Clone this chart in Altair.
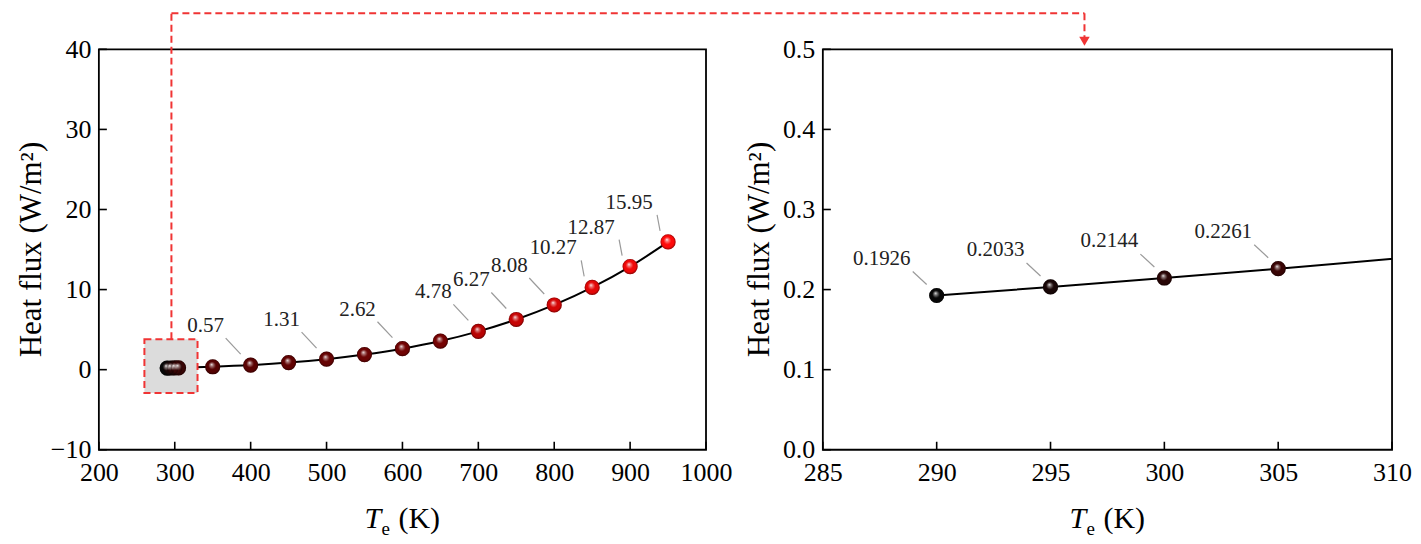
import altair as alt
import pandas as pd

# ---------------- data ----------------
TE = [290, 295, 300, 305, 350, 400, 450, 500, 550, 600, 650, 700, 750, 800, 850, 900, 950]
FLUX = [0.1926, 0.2033, 0.2144, 0.2261, 0.36, 0.57, 0.88, 1.31, 1.88, 2.62, 3.57,
        4.78, 6.27, 8.08, 10.27, 12.87, 15.95]

LEFT_LABEL_TE = [400, 500, 600, 700, 750, 800, 850, 900, 950]
LEFT_LABEL_TEXT = ["0.57", "1.31", "2.62", "4.78", "6.27", "8.08", "10.27", "12.87", "15.95"]
RIGHT_LABEL_TE = [290, 295, 300, 305]
RIGHT_LABEL_TEXT = ["0.1926", "0.2033", "0.2144", "0.2261"]

LEFT_X_TICKS = [200, 300, 400, 500, 600, 700, 800, 900, 1000]
LEFT_Y_TICKS = [-10, 0, 10, 20, 30, 40]
RIGHT_X_TICKS = [285, 290, 295, 300, 305, 310]
RIGHT_Y_TICKS = [0.0, 0.1, 0.2, 0.3, 0.4, 0.5]

ZOOM_X = [260, 330]      # inset region (data units) highlighted in the left panel
ZOOM_Y = [-2.9, 3.8]
ZOOM_LINK_X = [295.6]

COLOR_DOMAIN = [290, 305, 350, 650, 700, 950]
COLOR_RANGE = ["#070707", "#3a0505", "#560202", "#760303", "#b80202", "#ff0a0a"]

# ---------------- styling ----------------
FONT = "Liberation Serif"
W1, W2, H = 608, 570, 401
RED = "#f03434"
DASH = [7, 4]

df = pd.DataFrame({"Te": TE, "flux": FLUX})
lookup = dict(zip(TE, FLUX))
left_lab = pd.DataFrame({"Te": LEFT_LABEL_TE, "flux": [lookup[t] for t in LEFT_LABEL_TE],
                         "txt": LEFT_LABEL_TEXT})
right_lab = pd.DataFrame({"Te": RIGHT_LABEL_TE, "flux": [lookup[t] for t in RIGHT_LABEL_TE],
                          "txt": RIGHT_LABEL_TEXT})
right_pts = df[df["Te"] <= 305]
one = pd.DataFrame({"k": [0]})

color_scale = alt.Scale(domain=COLOR_DOMAIN, range=COLOR_RANGE, interpolate="rgb")

gloss = alt.RadialGradient(
    gradient="radial",
    stops=[
        alt.GradientStop(offset=0, color="rgba(255,255,255,0.95)"),
        alt.GradientStop(offset=0.2, color="rgba(255,255,255,0.45)"),
        alt.GradientStop(offset=0.5, color="rgba(255,255,255,0)"),
        alt.GradientStop(offset=0.8, color="rgba(0,0,0,0)"),
        alt.GradientStop(offset=1, color="rgba(0,0,0,0.45)"),
    ],
    x1=0.42, y1=0.34, r1=0, x2=0.5, y2=0.5, r2=0.5,
)


def axis(values, fmt, pad):
    return alt.Axis(values=values, format=fmt, title=None, domain=False, ticks=False,
                    tickSize=0, grid=False, labelFont=FONT, labelFontSize=26,
                    labelColor="black", labelPadding=pad, labelFlush=False,
                    labelOverlap=False)


def panel(W, xdom, ydom, xticks, yticks, yfmt, pts, labs, lab_groups, ytitle_x, clip):
    xs = alt.Scale(domain=xdom, nice=False, zero=False)
    ys = alt.Scale(domain=ydom, nice=False, zero=False)
    xax = axis(xticks, "d", 10)
    yax = axis(yticks, yfmt, 8)
    X = lambda f: alt.X(f, type="quantitative", scale=xs, axis=xax)
    Y = lambda f: alt.Y(f, type="quantitative", scale=ys, axis=yax)

    line = alt.Chart(df).mark_line(color="black", strokeWidth=2, interpolate="monotone",
                                   clip=clip).encode(
        x=X("Te"), y=Y("flux"), order="Te:Q")
    # inward ticks
    xt = alt.Chart(pd.DataFrame({"Te": xticks})).mark_rule(color="black", strokeWidth=1.6).encode(
        x=X("Te"), y=alt.value(H), y2=alt.value(H - 8))
    yt = alt.Chart(pd.DataFrame({"flux": yticks})).mark_rule(color="black", strokeWidth=1.6).encode(
        y=Y("flux"), x=alt.value(0), x2=alt.value(8))

    leaders = []
    texts = []
    for cond, (ldx, ldy, t1x, t1y, t2x, t2y) in lab_groups:
        sub = labs[cond(labs)]
        leaders.append(alt.Chart(sub).mark_rule(
            color="#9a9a9a", strokeWidth=1.2,
            xOffset=t1x, yOffset=t1y, x2Offset=t2x, y2Offset=t2y).encode(
            x=X("Te"), y=Y("flux"), x2="Te:Q", y2="flux:Q"))
        texts.append(alt.Chart(sub).mark_text(
            font=FONT, fontSize=21, color="#222222", dx=ldx, dy=ldy,
            align="center", baseline="middle").encode(
            x=X("Te"), y=Y("flux"), text="txt:N"))

    balls = alt.Chart(pts).mark_circle(size=230, opacity=1).encode(
        x=X("Te"), y=Y("flux"),
        color=alt.Color("Te:Q", scale=color_scale, legend=None))
    shine = alt.Chart(pts).mark_circle(size=230, opacity=1, fill=gloss).encode(
        x=X("Te"), y=Y("flux"))

    ytitle = alt.Chart(one).mark_text(font=FONT, fontSize=31, angle=270, align="center",
                                      baseline="alphabetic", color="black").encode(
        x=alt.value(ytitle_x), y=alt.value(H / 2), text=alt.value("Heat flux (W/m²)"))
    c = W / 2
    t_T = alt.Chart(one).mark_text(font=FONT, fontSize=30, fontStyle="italic", align="left",
                                   baseline="alphabetic", color="black").encode(
        x=alt.value(c - 38), y=alt.value(H + 78), text=alt.value("T"))
    t_e = alt.Chart(one).mark_text(font=FONT, fontSize=19, align="left",
                                   baseline="alphabetic", color="black").encode(
        x=alt.value(c - 21), y=alt.value(H + 85), text=alt.value("e"))
    t_K = alt.Chart(one).mark_text(font=FONT, fontSize=30, align="left",
                                   baseline="alphabetic", color="black").encode(
        x=alt.value(c - 4), y=alt.value(H + 78), text=alt.value("(K)"))

    layers = [line, xt, yt] + leaders + [balls, shine] + texts + [ytitle, t_T, t_e, t_K]
    return layers, X, Y


# ---------------- left panel ----------------
left_groups = [
    (lambda d: d["Te"] < 850, (-45, -39, -25, -27, -10, -11)),
    (lambda d: d["Te"] >= 850, (-39, -39, -11, -27, -8, -11)),
]
L_layers, LX, LY = panel(W1, [200, 1000], [-10, 40], LEFT_X_TICKS, LEFT_Y_TICKS, "d",
                         df, left_lab, left_groups, -58, False)

box = alt.Chart(pd.DataFrame({"Te": [ZOOM_X[0]], "x2": [ZOOM_X[1]],
                              "flux": [ZOOM_Y[0]], "y2": [ZOOM_Y[1]]})).mark_rect(
    fill="#dcdcdc", stroke=RED, strokeWidth=2, strokeDash=DASH).encode(
    x=LX("Te"), x2="x2:Q", y=LY("flux"), y2="y2:Q")

link = pd.DataFrame({"Te": ZOOM_LINK_X, "flux": [ZOOM_Y[1]]})
link_up = alt.Chart(link).mark_rule(color=RED, strokeWidth=2, strokeDash=DASH).encode(
    x=LX("Te"), y=LY("flux"), y2=alt.value(-36))
link_across = alt.Chart(link).mark_rule(color=RED, strokeWidth=2, strokeDash=DASH).encode(
    x=LX("Te"), x2=alt.value(987), y=alt.value(-36))
link_down = alt.Chart(one).mark_rule(color=RED, strokeWidth=2, strokeDash=DASH).encode(
    x=alt.value(987), y=alt.value(-36), y2=alt.value(-12))
arrow = alt.Chart(one).mark_point(shape="triangle-down", filled=True, color=RED, size=110,
                                  opacity=1).encode(x=alt.value(987), y=alt.value(-8))
anchor = alt.Chart(one).mark_rule(color="white", strokeWidth=1).encode(
    x=alt.value(-89), x2=alt.value(-89), y=alt.value(-39), y2=alt.value(-39))

left = alt.layer(L_layers[0], box, *L_layers[1:], link_up, link_across, link_down,
                 arrow, anchor).properties(width=W1, height=H)

# ---------------- right panel ----------------
right_groups = [(lambda d: d["Te"] > 0, (-55, -37, -24, -24, -10, -11))]
R_layers, RX, RY = panel(W2, [285, 310], [0, 0.5], RIGHT_X_TICKS, RIGHT_Y_TICKS, ".1f",
                         right_pts, right_lab, right_groups, -54, True)
right = alt.layer(*R_layers).properties(width=W2, height=H)

chart = alt.hconcat(left, right, spacing=117, bounds="flush").properties(
    padding=0, background="white"
).configure_view(stroke="black", strokeWidth=1.8)

chart.save("out.html", embed_options={"renderer": "svg", "actions": False})
